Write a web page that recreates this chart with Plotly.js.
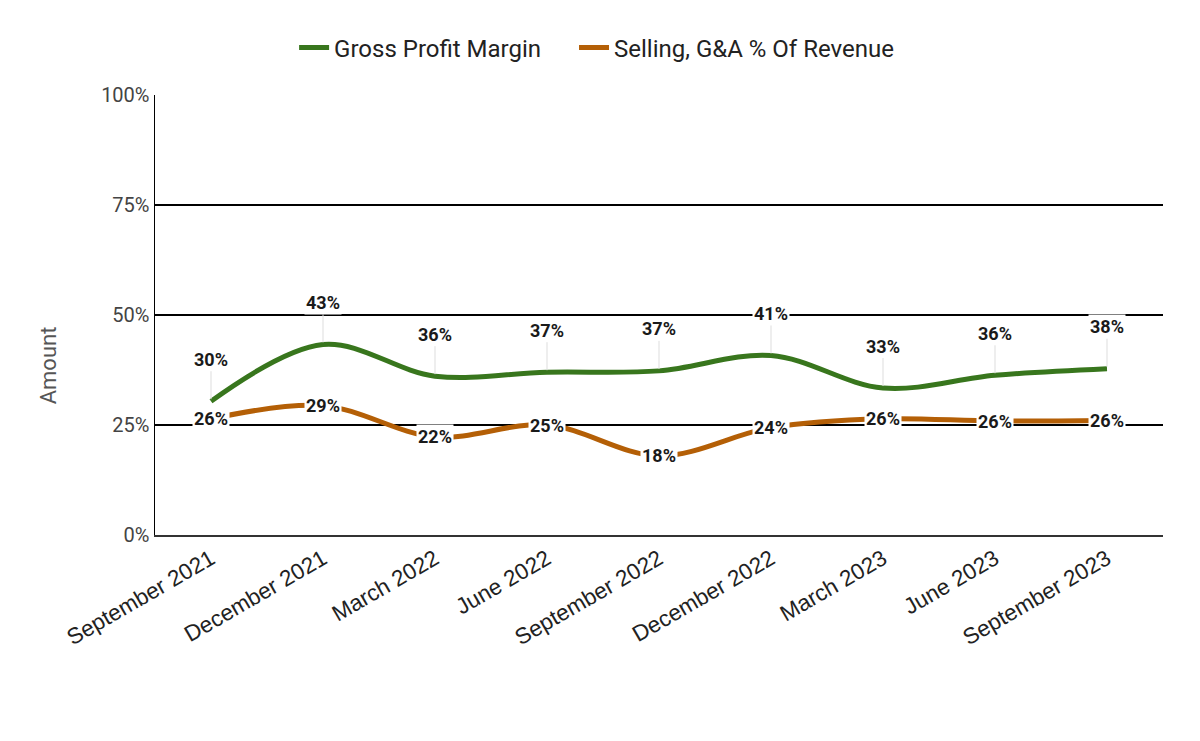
<!DOCTYPE html>
<html>
<head>
<meta charset="utf-8">
<script src="https://cdn.plot.ly/plotly-3.0.1.min.js"></script>
<style>html,body{margin:0;padding:0;background:#fff;}#chart{width:1200px;height:741px;}</style>
</head>
<body>
<div id="chart"></div>
<script>
const categories = ["September 2021","December 2021","March 2022","June 2022","September 2022","December 2022","March 2023","June 2023","September 2023"];
const grossProfitMargin = [30.4, 43.3, 36.1, 37.0, 37.3, 40.8, 33.4, 36.3, 37.8];
const sgaPctRevenue = [26.4, 29.4, 22.3, 25.0, 18.0, 24.4, 26.4, 25.9, 26.0];
const yTickVals = [0, 25, 50, 75, 100];
const yTickText = ["0%", "25%", "50%", "75%", "100%"];

const GREEN = "#38761d";
const ORANGE = "#b45f06";

const traces = [
  {
    x: categories, y: grossProfitMargin, type: "scatter", mode: "lines",
    name: "Gross Profit Margin", legend: "legend",
    line: {color: GREEN, width: 5, shape: "spline", smoothing: 1},
    hoverinfo: "skip"
  },
  {
    x: categories, y: sgaPctRevenue, type: "scatter", mode: "lines",
    name: "Selling, G&A % Of Revenue", legend: "legend2",
    line: {color: ORANGE, width: 5, shape: "spline", smoothing: 1},
    hoverinfo: "skip"
  }
];

const labelFont = {family: "Roboto, sans-serif", size: 18, color: "#1a1a1a", weight: "bold"};
const annotations = [];
categories.forEach((c, i) => {
  annotations.push({
    x: c, y: grossProfitMargin[i], xref: "x", yref: "y",
    text: "<b>" + Math.round(grossProfitMargin[i]) + "%</b>",
    showarrow: true, arrowhead: 0, arrowwidth: 1, arrowcolor: "#dddddd",
    ax: 0, ay: -42, standoff: 2, startstandoff: 0,
    bgcolor: "#ffffff", borderpad: 1,
    font: labelFont
  });
  annotations.push({
    x: c, y: sgaPctRevenue[i], xref: "x", yref: "y",
    text: "<b>" + Math.round(sgaPctRevenue[i]) + "%</b>",
    showarrow: false,
    bgcolor: "#ffffff", borderpad: 1,
    font: labelFont
  });
});
annotations.push({
  xref: "paper", yref: "paper", x: -0.106, y: 0.386,
  xanchor: "center", yanchor: "middle", textangle: -90,
  text: "Amount", showarrow: false,
  font: {family: "Roboto, sans-serif", size: 22, color: "#555"}
});

const legendFont = {family: "Roboto, sans-serif", size: 24, color: "#222"};

const layout = {
  width: 1200, height: 741,
  margin: {l: 155, r: 37, t: 95, b: 206},
  paper_bgcolor: "#ffffff", plot_bgcolor: "#ffffff",
  font: {family: "Roboto, sans-serif", color: "#222"},
  showlegend: true,
  legend: {
    orientation: "h", x: 0.138, xanchor: "left", y: 1.107, yanchor: "middle",
    font: legendFont, itemwidth: 30
  },
  legend2: {
    orientation: "h", x: 0.4157, xanchor: "left", y: 1.107, yanchor: "middle",
    font: legendFont, itemwidth: 30
  },
  xaxis: {
    type: "category", range: [-0.5, 8.5],
    tickangle: -30,
    tickfont: {family: "'Liberation Sans', Arial, sans-serif", size: 22.5, color: "#222"},
    showgrid: false, zeroline: false,
    showline: true, linecolor: "#333", linewidth: 2,
    ticks: "", fixedrange: true
  },
  yaxis: {
    range: [0, 100],
    tickvals: yTickVals, ticktext: yTickText,
    tickfont: {family: "Roboto, sans-serif", size: 20, color: "#444"},
    showgrid: true, gridcolor: "#000000", gridwidth: 1.5,
    zeroline: false,
    showline: true, linecolor: "#000000", linewidth: 1.5,
    ticks: "", automargin: false,
    fixedrange: true
  },
  annotations: annotations
};

Plotly.newPlot("chart", traces, layout, {displayModeBar: false, staticPlot: true});
</script>
</body>
</html>
